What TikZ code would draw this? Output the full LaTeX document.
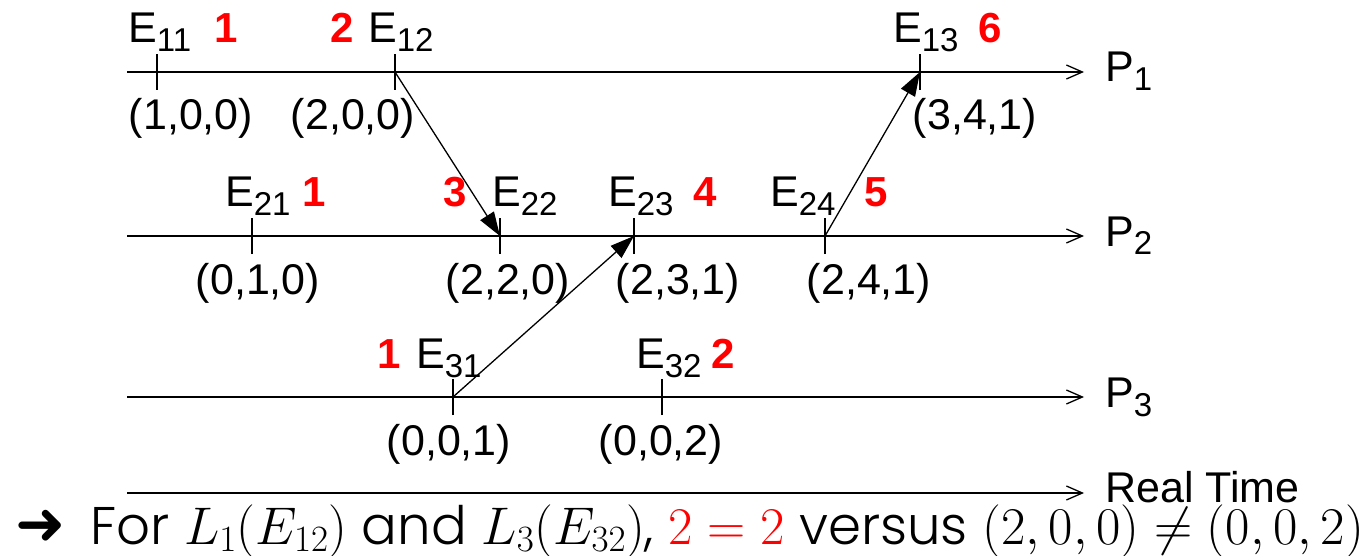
\RequirePackage{fix-cm}
\documentclass[tikz,border=0pt]{standalone}
\usepackage{fontspec}
\setmainfont{Liberation Sans}
\newfontfamily\gothic{Poppins Light}
\newfontfamily\dejavu{DejaVu Sans}
\usetikzlibrary{arrows.meta}
\newcommand\Esub[1]{E\raisebox{-9pt}{\fontsize{33}{33}\selectfont #1}}
\newcommand\Psub[1]{P\raisebox{-9pt}{\fontsize{33}{33}\selectfont #1}}
\tikzset{
  timeline/.style={line width=1.3pt, -{Straight Barb[length=16pt,width=14pt,line width=1.3pt]}},
  msg/.style={line width=1.3pt, -{Triangle[length=24pt,width=16pt]}},
  tickmark/.style={line width=1.3pt},
  ev/.style={font=\fontsize{43}{46}\selectfont, anchor=base west, inner sep=0pt},
  num/.style={font=\fontsize{42}{46}\selectfont\bfseries, text=red, anchor=base west, inner sep=0pt},
  vec/.style={font=\fontsize{43}{46}\selectfont, anchor=base, inner sep=0pt},
}
\begin{document}
\begin{tikzpicture}[x=1pt,y=-1pt]
\useasboundingbox (0,0) rectangle (1365,556);
% timelines
\coordinate (p1s) at (127,72);  \coordinate (p1e) at (1084,72);
\coordinate (p2s) at (127,236); \coordinate (p2e) at (1084,236);
\coordinate (p3s) at (127,397); \coordinate (p3e) at (1084,397);
\coordinate (rts) at (127,493); \coordinate (rte) at (1084,493);
\draw[timeline] (p1s) -- (p1e);
\draw[timeline] (p2s) -- (p2e);
\draw[timeline] (p3s) -- (p3e);
\draw[timeline] (rts) -- (rte);
\node[ev] (P1) at (1105,82) {\Psub{1}};
\node[ev] (P2) at (1105,246) {\Psub{2}};
\node[ev] (P3) at (1105,407) {\Psub{3}};
\node[ev] (RT) at (1105,502) {Real Time};
% events
\coordinate (e11) at (157,72);
\coordinate (e12) at (395,72);
\coordinate (e13) at (920,72);
\coordinate (e21) at (252,236);
\coordinate (e22) at (500,236);
\coordinate (e23) at (634,236);
\coordinate (e24) at (825,236);
\coordinate (e31) at (453,397);
\coordinate (e32) at (662,397);
\foreach \e in {e11,e12,e13,e21,e22,e23,e24,e31,e32}{
  \draw[tickmark] ([yshift=-18pt]\e) -- ([yshift=18pt]\e);
}
% messages
\draw[msg] (e12) -- (e22);
\draw[msg] (e31) -- (e23);
\draw[msg] (e24) -- (e13);
% event labels
\node[ev] (l11) at (128,43) {\Esub{11}};
\node[ev] (l12) at (368,43) {\Esub{12}};
\node[ev] (l13) at (893,43) {\Esub{13}};
\node[ev] (l21) at (225,207) {\Esub{21}};
\node[ev] (l22) at (492,207) {\Esub{22}};
\node[ev] (l23) at (608,207) {\Esub{23}};
\node[ev] (l24) at (770,207) {\Esub{24}};
\node[ev] (l31) at (416,368) {\Esub{31}};
\node[ev] (l32) at (636,368) {\Esub{32}};
% red counters
\node[num] (n11) at (214,43) {1};
\node[num] (n12) at (330,43) {2};
\node[num] (n13) at (978,43) {6};
\node[num] (n21) at (302,207) {1};
\node[num] (n22) at (443,207) {3};
\node[num] (n23) at (693,207) {4};
\node[num] (n24) at (864,207) {5};
\node[num] (n31) at (377,368) {1};
\node[num] (n32) at (711,368) {2};
% vector timestamps
\node[vec] (v11) at (191,130) {(1,0,0)};
\node[vec] (v12) at (353,130) {(2,0,0)};
\node[vec] (v13) at (975,130) {(3,4,1)};
\node[vec] (v21) at (258,294) {(0,1,0)};
\node[vec] (v22) at (508,294) {(2,2,0)};
\node[vec] (v23) at (678,294) {(2,3,1)};
\node[vec] (v24) at (869,294) {(2,4,1)};
\node[vec] (v31) at (449,455) {(0,0,1)};
\node[vec] (v32) at (661,455) {(0,0,2)};
% bottom note
\node[anchor=base west, inner sep=0pt, font=\dejavu\fontsize{60}{60}\selectfont] (bullet) at (15,544) {➜};
\node[anchor=base west, inner sep=0pt] (note) at (90,544)
 {\gothic\fontsize{53}{56}\selectfont For $L_1(E_{12})$ and $L_3(E_{32})$, $\color{red}2=2$ versus $(2,0,0)\neq(0,0,2)$};
\end{tikzpicture}
\end{document}
